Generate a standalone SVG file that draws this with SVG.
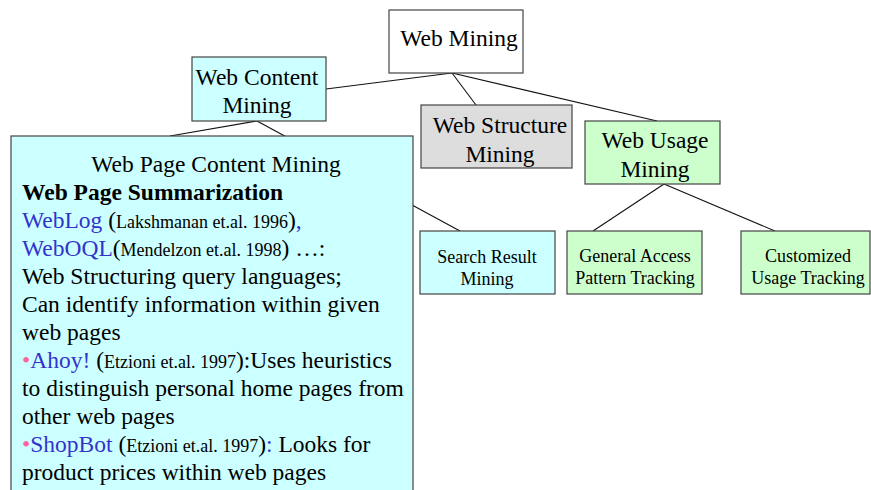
<svg xmlns="http://www.w3.org/2000/svg" width="871" height="490" viewBox="0 0 871 490">
  <style>
    .box { stroke: #444; stroke-width: 1.2; }
    .root { fill: #ffffff; }
    .cyan { fill: #ccffff; }
    .gray { fill: #dddddd; }
    .green { fill: #ccffcc; }
    .link { stroke: #111; stroke-width: 1.1; fill: none; }
    text { font-family: "Liberation Serif", "Times New Roman", serif; fill: #000; }
    .big { font-size: 23.5px; }
    .lbl { font-size: 18px; }
    .c { text-anchor: middle; }
    .b { font-weight: bold; }
    .sm { font-size: 18px; }
    .blue { fill: #3333cc; }
    .pink { fill: #ff6699; }
  </style>
  <rect width="871" height="490" fill="#ffffff"/>

  <!-- connectors -->
  <g id="connectors">
    <line class="link" x1="452" y1="73" x2="326" y2="89"/>
    <line class="link" x1="452" y1="73" x2="476" y2="105"/>
    <line class="link" x1="452" y1="73" x2="657" y2="121"/>
    <line class="link" x1="257" y1="121" x2="170" y2="136"/>
    <line class="link" x1="257" y1="121" x2="460" y2="231"/>
    <line class="link" x1="664" y1="184" x2="593" y2="231"/>
    <line class="link" x1="664" y1="184" x2="775" y2="231"/>
  </g>

  <g id="web-mining">
    <rect class="box root" x="389" y="10" width="134" height="63"/>
    <text class="big c" x="459" y="46">Web Mining</text>
  </g>

  <g id="web-content-mining">
    <rect class="box cyan" x="192" y="57" width="134" height="64"/>
    <text class="big c" x="257" y="85">Web Content</text>
    <text class="big c" x="257" y="113">Mining</text>
  </g>

  <g id="web-structure-mining">
    <rect class="box gray" x="421" y="105" width="151" height="63"/>
    <text class="big c" x="500" y="133">Web Structure</text>
    <text class="big c" x="500" y="162">Mining</text>
  </g>

  <g id="web-usage-mining">
    <rect class="box green" x="585" y="121" width="135" height="63"/>
    <text class="big c" x="655" y="148">Web Usage</text>
    <text class="big c" x="655" y="177">Mining</text>
  </g>

  <g id="search-result-mining">
    <rect class="box cyan" x="420" y="231" width="135" height="63"/>
    <text class="lbl c" x="487" y="263">Search Result</text>
    <text class="lbl c" x="487" y="285">Mining</text>
  </g>

  <g id="general-access">
    <rect class="box green" x="567" y="231" width="135" height="63"/>
    <text class="lbl c" x="635" y="262">General Access</text>
    <text class="lbl c" x="635" y="284">Pattern Tracking</text>
  </g>

  <g id="customized-usage">
    <rect class="box green" x="741" y="231" width="129" height="63"/>
    <text class="lbl c" x="808" y="262">Customized</text>
    <text class="lbl c" x="808" y="284">Usage Tracking</text>
  </g>

  <g id="web-page-content-mining">
    <rect class="box cyan" x="11" y="136" width="402" height="370"/>
    <text class="big c" x="216" y="172">Web Page Content Mining</text>
    <text class="big b" x="22" y="200">Web Page Summarization</text>
    <text class="big" x="22" y="228"><tspan class="blue">WebLog</tspan> (<tspan class="sm">Lakshmanan et.al. 1996</tspan>)<tspan class="blue">,</tspan></text>
    <text class="big" x="22" y="256"><tspan class="blue">WebOQL</tspan>(<tspan class="sm">Mendelzon et.al. 1998</tspan>) …:</text>
    <text class="big" x="22" y="284">Web Structuring query languages;</text>
    <text class="big" x="22" y="312">Can identify information within given</text>
    <text class="big" x="22" y="340">web pages</text>
    <text class="big" x="22" y="368"><tspan class="pink">•</tspan><tspan class="blue">Ahoy!</tspan> (<tspan class="sm">Etzioni et.al. 1997</tspan>):Uses heuristics</text>
    <text class="big" x="22" y="396">to distinguish personal home pages from</text>
    <text class="big" x="22" y="424">other web pages</text>
    <text class="big" x="22" y="452"><tspan class="pink">•</tspan><tspan class="blue">ShopBot</tspan> (<tspan class="sm">Etzioni et.al. 1997</tspan>)<tspan class="blue">:</tspan> Looks for</text>
    <text class="big" x="22" y="480">product prices within web pages</text>
  </g>
</svg>
